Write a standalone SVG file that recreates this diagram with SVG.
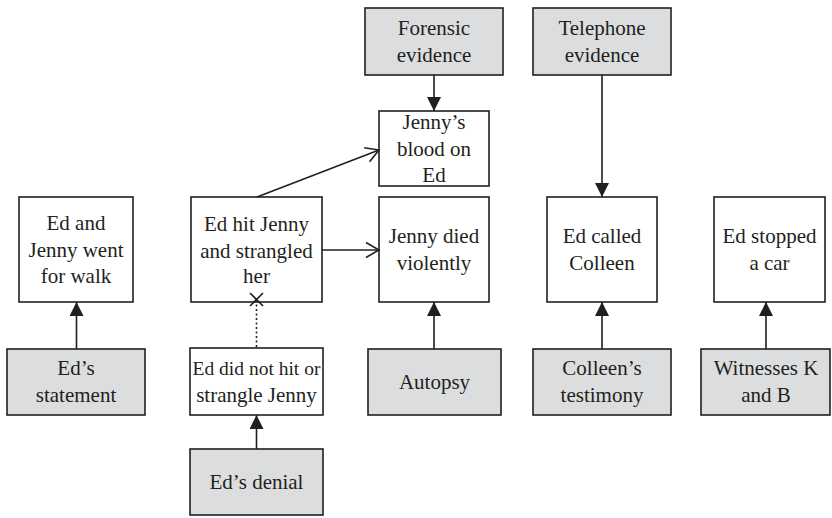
<svg xmlns="http://www.w3.org/2000/svg" width="832" height="518" viewBox="0 0 832 518">
<defs>
<marker id="fa" viewBox="0 0 14 14" markerWidth="14" markerHeight="14" refX="14" refY="7" orient="auto" markerUnits="userSpaceOnUse"><path d="M0,0 L14,7 L0,14 Z" fill="#231f20"/></marker>
<marker id="oa" viewBox="-1 -1 16 18" markerWidth="16" markerHeight="18" refX="13" refY="8" orient="auto" markerUnits="userSpaceOnUse"><path d="M0,0.5 L13,8 L0,15.5" fill="none" stroke="#231f20" stroke-width="1.6"/></marker>
</defs>
<style>
.w,.g{stroke:#231f20;stroke-width:1.6}
.w{fill:#ffffff}
.g{fill:#dcdddf}
text{font-family:'Liberation Serif','Times New Roman',Times,serif;font-size:21px;fill:#231f20;text-anchor:middle}
.c line,.c path{stroke:#231f20;stroke-width:1.6;fill:none}
</style>
<rect x="0" y="0" width="832" height="518" fill="#ffffff"/>
<g id="n_walk"><rect class="w" x="19" y="197" width="114" height="105"/><text x="76" y="230">Ed and</text><text x="76" y="257">Jenny went</text><text x="76" y="283">for walk</text></g>
<g id="n_statement"><rect class="g" x="7" y="349" width="138" height="66"/><text x="76" y="375">Ed’s</text><text x="76" y="402">statement</text></g>
<g id="n_hit"><rect class="w" x="191" y="197" width="131" height="105"/><text x="256.5" y="231">Ed hit Jenny</text><text x="256.5" y="258">and strangled</text><text x="256.5" y="283">her</text></g>
<g id="n_nothit"><rect class="w" x="190" y="348" width="133" height="67"/><text x="256.5" y="375" style="font-size:19.5px">Ed did not hit or</text><text x="256.5" y="402">strangle Jenny</text></g>
<g id="n_denial"><rect class="g" x="190" y="449" width="133" height="66"/><text x="256.5" y="489">Ed’s denial</text></g>
<g id="n_forensic"><rect class="g" x="365" y="8" width="138" height="67"/><text x="434" y="35">Forensic</text><text x="434" y="62">evidence</text></g>
<g id="n_blood"><rect class="w" x="379" y="111" width="110" height="75"/><text x="434" y="129">Jenny’s</text><text x="434" y="156">blood on</text><text x="434" y="182">Ed</text></g>
<g id="n_died"><rect class="w" x="379" y="197" width="110" height="105"/><text x="434" y="243">Jenny died</text><text x="434" y="270">violently</text></g>
<g id="n_autopsy"><rect class="g" x="368" y="349" width="133" height="66"/><text x="434.5" y="389">Autopsy</text></g>
<g id="n_telephone"><rect class="g" x="533" y="8" width="138" height="67"/><text x="602" y="35">Telephone</text><text x="602" y="62">evidence</text></g>
<g id="n_called"><rect class="w" x="547" y="197" width="110" height="105"/><text x="602" y="243">Ed called</text><text x="602" y="270">Colleen</text></g>
<g id="n_colleen"><rect class="g" x="533" y="349" width="138" height="66"/><text x="602" y="375">Colleen’s</text><text x="602" y="402">testimony</text></g>
<g id="n_stopped"><rect class="w" x="714" y="197" width="111" height="105"/><text x="769.5" y="243">Ed stopped</text><text x="769.5" y="270">a car</text></g>
<g id="n_witness"><rect class="g" x="701" y="349" width="129" height="66"/><text x="766" y="375">Witnesses K</text><text x="766" y="402">and B</text></g>
<g id="connectors" class="c">
<line x1="76.5" y1="349" x2="76.5" y2="302" marker-end="url(#fa)"/>
<line x1="256.5" y1="449" x2="256.5" y2="415" marker-end="url(#fa)"/>
<line x1="434" y1="75" x2="434" y2="111" marker-end="url(#fa)"/>
<line x1="434" y1="349" x2="434" y2="302" marker-end="url(#fa)"/>
<line x1="602" y1="75" x2="602" y2="197" marker-end="url(#fa)"/>
<line x1="602" y1="349" x2="602" y2="302" marker-end="url(#fa)"/>
<line x1="766" y1="349" x2="766" y2="302" marker-end="url(#fa)"/>
<line x1="322" y1="250" x2="379" y2="250" marker-end="url(#oa)"/>
<line x1="257" y1="197" x2="379" y2="150" marker-end="url(#oa)"/>
<line x1="256.5" y1="347" x2="256.5" y2="300" stroke-dasharray="2,2.5"/>
<path d="M250,293 L263,306 M263,293 L250,306"/>
</g>
</svg>
